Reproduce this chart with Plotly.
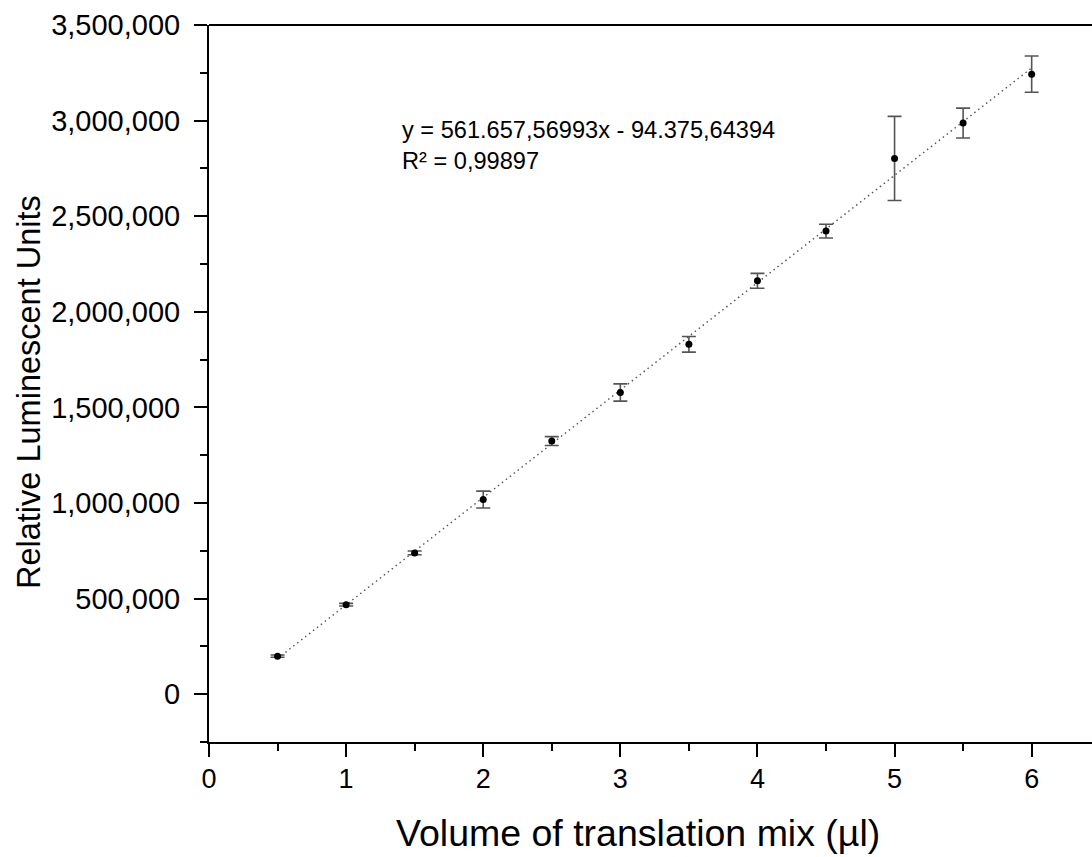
import plotly.graph_objects as go

volume = [0.5, 1.0, 1.5, 2.0, 2.5, 3.0, 3.5, 4.0, 4.5, 5.0, 5.5, 6.0]
rlu = [199000, 468000, 739000, 1018000, 1324000, 1578000, 1830000, 2162000, 2422000, 2802000, 2987000, 3243000]
rlu_err = [6000, 7000, 10000, 44000, 23000, 45000, 41000, 39000, 36000, 220000, 78000, 95000]

slope = 561657.56993
intercept = -94375.64394
fit_x = [0.5, 6.0]
fit_y = [slope * v + intercept for v in fit_x]

font = "Liberation Sans, Arial, sans-serif"

fig = go.Figure()
fig.add_trace(go.Scatter(x=fit_x, y=fit_y, mode="lines",
                         line=dict(color="#555555", width=1.4, dash="1.5px,3.5px"),
                         showlegend=False, hoverinfo="skip"))
fig.add_trace(go.Scatter(x=volume, y=rlu, mode="markers",
                         marker=dict(color="black", size=7),
                         error_y=dict(type="data", array=rlu_err, visible=True,
                                      color="#555555", thickness=1.6, width=7),
                         showlegend=False))

fig.add_annotation(x=(400 - 209) / 883, y=1 - (145 - 25) / 717, xref="paper", yref="paper",
                   xanchor="left", yanchor="middle", showarrow=False, align="left",
                   text="y = 561.657,56993x - 94.375,64394<br>R² = 0,99897",
                   font=dict(family=font, size=23.6, color="black"))
fig.add_annotation(x=(637.5 - 209) / 883, y=-(833 - 742) / 717, xref="paper", yref="paper",
                   xanchor="center", yanchor="middle", showarrow=False,
                   text="Volume of translation mix (µl)",
                   font=dict(family=font, size=37.5, color="black"))
fig.add_annotation(x=(29 - 209) / 883, y=1 - (392 - 25) / 717, xref="paper", yref="paper",
                   xanchor="center", yanchor="middle", showarrow=False, textangle=-90,
                   text="Relative Luminescent Units",
                   font=dict(family=font, size=32.5, color="black"))

fig.update_layout(
    width=1092, height=857,
    margin=dict(l=209, r=0, t=25, b=115),
    plot_bgcolor="white", paper_bgcolor="white",
    font=dict(family=font, color="black"),
)
fig.update_xaxes(range=[0, 6.44], tickvals=[0, 1, 2, 3, 4, 5, 6],
                 ticks="outside", ticklen=13, tickwidth=2, tickcolor="black",
                 minor=dict(tickvals=[0.5, 1.5, 2.5, 3.5, 4.5, 5.5], ticks="outside", ticklen=7, tickwidth=2, tickcolor="black"),
                 showline=True, linecolor="black", linewidth=2, mirror=False,
                 showgrid=False, zeroline=False,
                 ticklabelstandoff=-1,
                 tickfont=dict(size=27, family=font))
fig.update_yaxes(range=[-250000, 3500000], tickvals=[0, 500000, 1000000, 1500000, 2000000, 2500000, 3000000, 3500000],
                 tickformat=",d",
                 ticks="outside", ticklen=13, tickwidth=2, tickcolor="black",
                 minor=dict(tickvals=[-250000, 250000, 750000, 1250000, 1750000, 2250000, 2750000, 3250000], ticks="outside", ticklen=7, tickwidth=2, tickcolor="black"),
                 showline=True, linecolor="black", linewidth=2,
                 showgrid=False, zeroline=False,
                 ticklabelstandoff=8,
                 tickfont=dict(size=29, family=font))
# top border line
fig.add_shape(type="line", xref="paper", yref="paper", x0=0, x1=1, y0=1, y1=1,
              line=dict(color="black", width=2))

fig.write_html("out.html")
